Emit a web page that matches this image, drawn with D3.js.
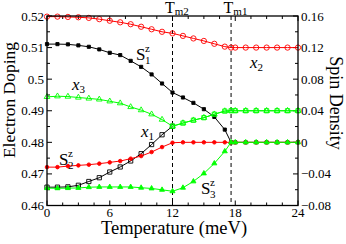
<!DOCTYPE html>
<html>
<head>
<meta charset="utf-8">
<script src="https://cdn.jsdelivr.net/npm/d3@7"></script>
<style>
  body { margin: 0; background: #fff; }
  svg text { font-family: "Liberation Serif", "Times New Roman", serif; fill: #000; }
</style>
</head>
<body>
<svg id="chart" width="346" height="244"></svg>
<script>
// temperatures (meV); 17.6 is the extra point at Tm1
var temps = [0, 1, 2, 3, 4, 5, 6, 7, 8, 9, 10, 11, 12, 13, 14, 15, 16, 17, 17.6,
             18, 19, 20, 21, 22, 23, 24];

// electron doping (left axis)
var x1 = [0.4658, 0.4658, 0.4659, 0.4664, 0.4676, 0.4688, 0.4706, 0.4722, 0.4741, 0.4764,
          0.4793, 0.4824, 0.4851, 0.4861, 0.4870, 0.4878, 0.4889, 0.4899, 0.4900,
          0.49, 0.49, 0.49, 0.49, 0.49, 0.49, 0.49];
var x2 = [0.5198, 0.5198, 0.5197, 0.5196, 0.5194, 0.5190, 0.5185, 0.5180, 0.5174, 0.5166,
          0.5158, 0.5150, 0.5145, 0.5137, 0.5129, 0.5121, 0.5112, 0.5103, 0.5100,
          0.51, 0.51, 0.51, 0.51, 0.51, 0.51, 0.51];
var x3 = [0.4944, 0.4946, 0.4945, 0.4942, 0.4939, 0.4936, 0.4930, 0.4924, 0.4912, 0.4902,
          0.4889, 0.4872, 0.4851, 0.4861, 0.4870, 0.4878, 0.4889, 0.4899, 0.4900,
          0.49, 0.49, 0.49, 0.49, 0.49, 0.49, 0.49];

// spin density (right axis)
var s1 = [0.1244, 0.1244, 0.1241, 0.1228, 0.1210, 0.1177, 0.1134, 0.1105, 0.1032, 0.0956,
          0.0860, 0.0745, 0.0631, 0.0568, 0.0500, 0.0420, 0.0322, 0.0161, 0,
          0, 0, 0, 0, 0, 0, 0];
var s2 = [-0.0314, -0.0314, -0.0301, -0.0292, -0.0283, -0.0270, -0.0254, -0.0237, -0.0207, -0.0174,
          -0.0123, -0.0060, -0.0005, 0, 0, 0, 0, 0, 0,
          0, 0, 0, 0, 0, 0, 0];
var s3 = [-0.0580, -0.0582, -0.0580, -0.0578, -0.0568, -0.0565, -0.0565, -0.0565, -0.0565, -0.0575,
          -0.0584, -0.0601, -0.0620, -0.0575, -0.0495, -0.0394, -0.0267, -0.0114, 0,
          0, 0, 0, 0, 0, 0, 0];

var tm2 = 12, tm1 = 17.6;
var xTicks = [0, 6, 12, 18, 24];
var leftTicks = [0.46, 0.47, 0.48, 0.49, 0.5, 0.51, 0.52];
var rightTicks = [-0.08, -0.04, 0, 0.04, 0.08, 0.12, 0.16];

var svg = d3.select("#chart");
var x = d3.scaleLinear().domain([0, 24]).range([47, 298]);
var yl = d3.scaleLinear().domain([0.46, 0.52]).range([205.5, 16]);
var yr = d3.scaleLinear().domain([-0.08, 0.16]).range([205.5, 16]);

function pts(vals) {
    return temps.map(function(t, i) { return [t, vals[i]]; });
}

// ticks, all pointing inwards (major + minor)
var tickG = svg.append("g").attr("stroke", "#000").attr("stroke-width", 1);
d3.range(0, 24.01, 1.5).forEach(function(t) {
    var L = (t % 6 === 0) ? 5 : 3;
    tickG.append("line").attr("x1", x(t)).attr("x2", x(t)).attr("y1", 205.5).attr("y2", 205.5 - L);
    tickG.append("line").attr("x1", x(t)).attr("x2", x(t)).attr("y1", 16).attr("y2", 16 + L);
});
d3.range(0.46, 0.5201, 0.005).forEach(function(v, i) {
    var L = (i % 2 === 0) ? 5 : 3;
    tickG.append("line").attr("x1", 47).attr("x2", 47 + L).attr("y1", yl(v)).attr("y2", yl(v));
});
d3.range(-0.08, 0.1601, 0.02).forEach(function(v, i) {
    var L = (i % 2 === 0) ? 5 : 3;
    tickG.append("line").attr("x1", 298).attr("x2", 298 - L).attr("y1", yr(v)).attr("y2", yr(v));
});

// tick labels
svg.append("g").selectAll("text").data(xTicks).enter().append("text")
    .attr("x", function(d) { return x(d); }).attr("y", 217)
    .attr("text-anchor", "middle").style("font-size", "13px")
    .text(function(d) { return d; });
svg.append("g").selectAll("text").data(leftTicks).enter().append("text")
    .attr("x", 44).attr("y", function(d) { return yl(d) + 4.5; })
    .attr("text-anchor", "end").style("font-size", "13px")
    .text(function(d) { return d3.format("")(d); });
svg.append("g").selectAll("text").data(rightTicks).enter().append("text")
    .attr("x", 301).attr("y", function(d) { return yr(d) + 4.5; })
    .style("font-size", "13px")
    .text(function(d) { return d3.format("")(+d.toFixed(2)); });

// axis titles
svg.append("text").attr("x", 174).attr("y", 234).attr("text-anchor", "middle")
    .style("font-size", "18.5px").text("Temperature (meV)");
svg.append("text").attr("transform", "translate(15,100) rotate(-90)").attr("text-anchor", "middle")
    .style("font-size", "17.5px").text("Electron Doping");
svg.append("text").attr("transform", "translate(330,103) rotate(90)").attr("text-anchor", "middle")
    .style("font-size", "18px").text("Spin Density");

// dashed transition lines + labels
[tm2, tm1].forEach(function(t, i) {
    svg.append("line").attr("x1", x(t)).attr("x2", x(t)).attr("y1", 16).attr("y2", 205.5)
        .attr("stroke", "#000").attr("stroke-width", 1).attr("stroke-dasharray", "4,3");
    var lab = svg.append("text").attr("x", x(t) - 7.5).attr("y", 12.5).style("font-size", "16px");
    lab.append("tspan").text("T");
    lab.append("tspan").attr("dy", 2.5).style("font-size", "11px").text(i === 0 ? "m2" : "m1");
});

function line(scale) {
    return d3.line().x(function(d) { return x(d[0]); }).y(function(d) { return scale(d[1]); });
}

function series(vals, scale, colour, shape, size, filled, from, to) {
    var data = pts(vals).filter(function(d) { return d[0] >= from && d[0] <= to; });
    var g = svg.append("g");
    g.append("path").datum(data).attr("d", line(scale))
        .attr("fill", "none").attr("stroke", colour).attr("stroke-width", 1);
    g.selectAll("path.m").data(data).enter().append("path").attr("class", "m")
        .attr("transform", function(d) { return "translate(" + x(d[0]) + "," + scale(d[1]) + ")"; })
        .attr("d", d3.symbol().type(shape).size(size))
        .attr("fill", filled ? colour : "none")
        .attr("stroke", colour).attr("stroke-width", 0.9);
}

series(x2, yl, "#ff0000", d3.symbolCircle, 22, false, 0, 24);
series(s1, yr, "#000000", d3.symbolSquare, 10, true, 0, 24);
series(x1, yl, "#000000", d3.symbolSquare, 18, false, 0, 12);
series(x1, yl, "#00ff00", d3.symbolSquare, 18, false, 12, 24);
series(s2, yr, "#ff0000", d3.symbolCircle, 10, true, 0, 24);
series(x3, yl, "#00ff00", d3.symbolTriangle, 14, false, 0, 24);
series(s3, yr, "#00ff00", d3.symbolTriangle, 11, true, 0, 24);

// frame
svg.append("rect").attr("x", 47).attr("y", 16).attr("width", 251).attr("height", 189.5)
    .attr("fill", "none").attr("stroke", "#000").attr("stroke-width", 1.3);

// curve labels
function sLabel(px, py, sub) {
    svg.append("text").attr("x", px).attr("y", py).style("font-size", "17px").text("S");
    svg.append("text").attr("x", px + 9).attr("y", py - 8).style("font-size", "11px").text("z");
    svg.append("text").attr("x", px + 9).attr("y", py + 4).style("font-size", "11px").text(sub);
}
function xLabel(px, py, sub) {
    var t = svg.append("text").attr("x", px).attr("y", py);
    t.append("tspan").style("font-size", "17px").style("font-style", "italic").text("x");
    t.append("tspan").attr("dy", 3).style("font-size", "11px").text(sub);
}
sLabel(136, 60, "1");
sLabel(59, 165, "2");
sLabel(201, 194, "3");
xLabel(141, 137, "1");
xLabel(250, 68, "2");
xLabel(72, 90, "3");
</script>
</body>
</html>
